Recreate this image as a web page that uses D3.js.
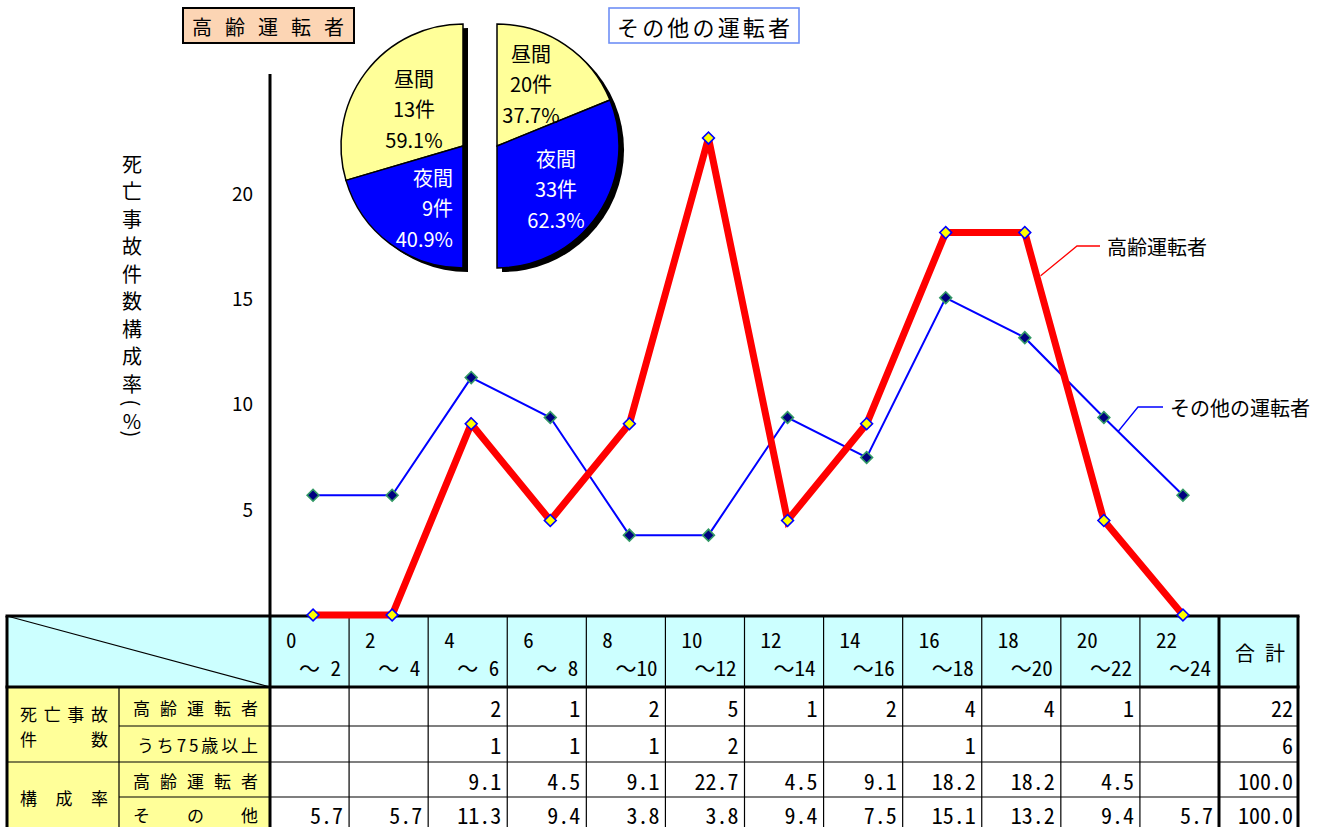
<!DOCTYPE html>
<html lang="ja">
<head>
<meta charset="utf-8">
<title>時間帯別 死亡事故件数構成率</title>
<script src="https://cdn.jsdelivr.net/npm/d3@7"></script>
<style>
  body { margin: 0; background: #fff; }
  svg { display: block; font-family: "Noto Sans CJK JP", "Noto Sans", sans-serif; }
</style>
</head>
<body>
<svg id="chart" width="1332" height="827"></svg>
<script>
// ---- data ----

const hourFrom = ['0', '2', '4', '6', '8', '10', '12', '14', '16', '18', '20', '22'];
const hourTo = ['～ 2', '～ 4', '～ 6', '～ 8', '～10', '～12', '～14', '～16', '～18', '～20', '～22', '～24'];

// 死亡事故件数
const elderlyCount = [null, null, 2, 1, 2, 5, 1, 2, 4, 4, 1, null];
const over75Count  = [null, null, 1, 1, 1, 2, null, null, 1, null, null, null];
// 構成率 (%)
const elderlyRate  = [null, null, 9.1, 4.5, 9.1, 22.7, 4.5, 9.1, 18.2, 18.2, 4.5, null];
const otherRate    = [5.7, 5.7, 11.3, 9.4, 3.8, 3.8, 9.4, 7.5, 15.1, 13.2, 9.4, 5.7];
const rowTotals    = ['22', '6', '100.0', '100.0'];

// 昼夜別 (pies)
const elderlyPie = [ {name: '昼間', count: 13, pct: 59.1}, {name: '夜間', count: 9, pct: 40.9} ];
const otherPie   = [ {name: '昼間', count: 20, pct: 37.7}, {name: '夜間', count: 33, pct: 62.3} ];

const yTicks = [5, 10, 15, 20];

// ---- layout ----
const svg = d3.select('#chart');
const monoFont = '"Noto Sans Mono CJK JP", "Noto Sans CJK JP", monospace';

const tbl = { left: 7, labelDiv: 119, colStart: 270, colEnd: 1219, right: 1298,
              top: 616, headBottom: 687 };

// table columns and plot positions
const colX = d3.scaleBand().domain(hourFrom).range([tbl.colStart, tbl.colEnd]);
const plotX = d3.scaleBand().domain(hourFrom).range([tbl.colStart + 3.5, tbl.colEnd + 3.5]);
const px = h => plotX(h) + plotX.bandwidth() / 2;
const y = d3.scaleLinear().domain([0, 25.75]).range([615, 74]);

/*************************************************************/
// table backgrounds

svg.append('rect').attr('x', tbl.left).attr('y', tbl.top)
   .attr('width', tbl.right - tbl.left).attr('height', tbl.headBottom - tbl.top)
   .attr('fill', '#ccffff');
svg.append('rect').attr('x', tbl.left).attr('y', tbl.headBottom)
   .attr('width', tbl.colStart - tbl.left).attr('height', 833 - tbl.headBottom)
   .attr('fill', '#ffff99');

// thin grid lines
const thin = svg.append('g').attr('stroke', '#000').attr('stroke-width', 1.2);
[726, 797].forEach(yy => thin.append('line').attr('x1', tbl.labelDiv).attr('x2', tbl.right).attr('y1', yy).attr('y2', yy));
thin.append('line').attr('x1', tbl.left).attr('x2', tbl.right).attr('y1', 762).attr('y2', 762);
thin.append('line').attr('x1', tbl.labelDiv).attr('x2', tbl.labelDiv).attr('y1', tbl.headBottom).attr('y2', 833);
hourFrom.slice(1).forEach(h => thin.append('line')
   .attr('x1', colX(h)).attr('x2', colX(h)).attr('y1', tbl.top).attr('y2', 833));
thin.append('line').attr('x1', tbl.left).attr('y1', tbl.top).attr('x2', tbl.colStart).attr('y2', tbl.headBottom);

// thick frame lines
const thick = svg.append('g').attr('stroke', '#000').attr('stroke-width', 3);
[tbl.top, tbl.headBottom].forEach(yy => thick.append('line').attr('x1', tbl.left - 1.5).attr('x2', tbl.right + 1.5).attr('y1', yy).attr('y2', yy));
[tbl.left, tbl.colEnd, tbl.right].forEach(xx => thick.append('line').attr('x1', xx).attr('x2', xx).attr('y1', tbl.top).attr('y2', 833));
thick.append('line').attr('x1', tbl.colStart).attr('x2', tbl.colStart).attr('y1', y.range()[1]).attr('y2', 833);

// header
const head = svg.append('g').attr('font-family', monoFont).attr('font-size', 21).attr('fill', '#000');
hourFrom.forEach((h, i) => {
  head.append('text').attr('x', colX(h) + 16).attr('y', 639).attr('dominant-baseline', 'central').text(h);
  head.append('text').attr('x', colX(h) + colX.bandwidth() - 8).attr('y', 667)
      .attr('text-anchor', 'end').attr('dominant-baseline', 'central').text(hourTo[i]);
});
svg.append('text').attr('x', 1235).attr('y', 652).attr('font-size', 20)
   .attr('dominant-baseline', 'central').attr('textLength', 50).attr('lengthAdjust', 'spacing').text('合計');

// row labels (distributed across the cell)
const labels = [
  {t: '死亡事故', x: 20, y: 713, w: 88},
  {t: '件　　数', x: 20, y: 738, w: 88},
  {t: '構成率',   x: 20, y: 797, w: 88},
  {t: '高齢運転者', x: 133, y: 707, w: 125},
  {t: 'うち75歳以上', x: 137, y: 744, w: 121},
  {t: '高齢運転者', x: 133, y: 780, w: 125},
  {t: 'その他',   x: 133, y: 814, w: 125}
];
svg.append('g').attr('font-size', 17).selectAll('text').data(labels).join('text')
   .attr('x', d => d.x).attr('y', d => d.y).attr('dominant-baseline', 'central')
   .attr('textLength', d => d.w).attr('lengthAdjust', 'spacing').text(d => d.t);

// cell values
const fmtInt = v => v == null ? '' : String(v);
const fmtPct = v => v == null ? '' : v.toFixed(1);
const tableRows = [
  {vals: elderlyCount.map(fmtInt), y: 707},
  {vals: over75Count.map(fmtInt),  y: 744},
  {vals: elderlyRate.map(fmtPct),  y: 780},
  {vals: otherRate.map(fmtPct),    y: 814}
];
const cells = svg.append('g').attr('font-family', monoFont).attr('font-size', 22);
tableRows.forEach((row, r) => {
  row.vals.forEach((v, i) => cells.append('text')
     .attr('x', colX(hourFrom[i]) + colX.bandwidth() - 6).attr('y', row.y)
     .attr('text-anchor', 'end').attr('dominant-baseline', 'central').text(v));
  cells.append('text').attr('x', tbl.right - 5).attr('y', row.y)
     .attr('text-anchor', 'end').attr('dominant-baseline', 'central').text(rowTotals[r]);
});

/*************************************************************/
// y axis

svg.append('g').attr('transform', `translate(${tbl.colStart},0)`)
   .call(d3.axisLeft(y).tickValues(yTicks).tickSize(0).tickPadding(17))
   .call(g => g.select('.domain').remove())
   .call(g => g.selectAll('text').attr('font-size', 19).attr('font-family', '"Noto Sans CJK JP", sans-serif'));

// vertical axis title, one glyph at a time; brackets turned for vertical writing
const titleChars = [['死', 27.5], ['亡', 27.5], ['事', 27.5], ['故', 27.5], ['件', 27.5], ['数', 27.5],
                    ['構', 27.5], ['成', 27.5], ['率', 20], ['(', 17], ['%', 14], [')', 0]];
let ty = 163;
const yTitle = svg.append('g').attr('font-size', 20).attr('text-anchor', 'middle');
titleChars.forEach(([c, adv]) => {
  const t = yTitle.append('text').attr('x', 132).attr('y', ty).attr('dominant-baseline', 'central').text(c);
  if (c === '(' || c === ')') t.attr('transform', `rotate(90,132,${ty})`);
  ty += adv;
});

/*************************************************************/
// lines

const diamond = d3.symbol().type(d3.symbolSquare).size(70);

function drawSeries(values, opt) {
  const pts = values.map((v, i) => [px(hourFrom[i]), y(v == null ? 0 : v)]);
  svg.append('path').datum(pts).attr('d', d3.line())
     .attr('fill', 'none').attr('stroke', opt.line).attr('stroke-width', opt.width)
     .attr('stroke-linejoin', 'miter');
  svg.append('g').selectAll('path').data(pts).join('path')
     .attr('d', diamond).attr('transform', d => `translate(${d[0]},${d[1]}) rotate(45)`)
     .attr('fill', opt.fill).attr('stroke', opt.stroke).attr('stroke-width', 1.6);
  return pts;
}

const otherPts = drawSeries(otherRate, {line: '#0000ff', width: 2, fill: '#000080', stroke: '#339966'});
const elderPts = drawSeries(elderlyRate, {line: '#ff0000', width: 7, fill: '#ffff00', stroke: '#0000ff'});

// series labels with leader lines
function leader(pts, i, t, dx, elbow, tail, color, text) {
  const a = pts[i], b = pts[i + 1];
  const sx = a[0] + (b[0] - a[0]) * t + dx, sy = a[1] + (b[1] - a[1]) * t;
  svg.append('polyline')
     .attr('points', [[sx, sy], [elbow[0], elbow[1]], [tail, elbow[1]]].join(' '))
     .attr('fill', 'none').attr('stroke', color).attr('stroke-width', 1.3);
  svg.append('text').attr('x', tail + 7).attr('y', elbow[1]).attr('font-size', 20)
     .attr('dominant-baseline', 'central').text(text);
}
leader(elderPts, 9, 0.15, 4, [1077, 246], 1100, '#ff0000', '高齢運転者');
leader(otherPts, 10, 0.18, 0, [1138, 407], 1163, '#0000ff', 'その他の運転者');

/*************************************************************/
// half pies

function halfPie(data, cx, cy, r, dir, labelPos) {
  const g = svg.append('g').attr('transform', `translate(${cx},${cy})`);
  const end = dir * Math.PI;
  const shadow = d3.arc().innerRadius(0).outerRadius(r)({startAngle: 0, endAngle: end});
  g.append('path').attr('d', shadow).attr('fill', '#000').attr('transform', 'translate(5,4)');
  const arcs = d3.pie().sort(null).value(d => d.pct).startAngle(0).endAngle(end)(data);
  const arc = d3.arc().innerRadius(0).outerRadius(r);
  g.selectAll('path.slice').data(arcs).join('path').attr('class', 'slice')
   .attr('d', arc).attr('fill', (d, i) => i === 0 ? '#ffff99' : '#0000ff')
   .attr('stroke', '#000').attr('stroke-width', 1.5);
  arcs.forEach((d, i) => {
    const [lx, ly, anchor] = labelPos[i];
    const txt = g.append('text').attr('font-size', 20).attr('text-anchor', anchor)
       .attr('fill', i === 0 ? '#000' : '#fff');
    [d.data.name, d.data.count + '件', d.data.pct.toFixed(1) + '%'].forEach((s, k) =>
      txt.append('tspan').attr('x', lx).attr('y', ly + k * 30.5).attr('dominant-baseline', 'central').text(s));
  });
}
halfPie(elderlyPie, 463, 146, 122, -1, [[-49, -68, 'middle'], [-10, 31, 'end']]);
halfPie(otherPie, 497, 146, 122, 1, [[34, -93, 'middle'], [59, 12, 'middle']]);

/*************************************************************/
// title boxes

svg.append('rect').attr('x', 183).attr('y', 8).attr('width', 171).attr('height', 35)
   .attr('fill', '#fcd5b4').attr('stroke', '#000').attr('stroke-width', 2);
svg.append('text').attr('x', 192).attr('y', 26).attr('font-size', 20)
   .attr('dominant-baseline', 'central').attr('textLength', 152).attr('lengthAdjust', 'spacing')
   .text('高齢運転者');

svg.append('rect').attr('x', 609).attr('y', 8).attr('width', 190).attr('height', 35)
   .attr('fill', '#fff').attr('stroke', '#6f8ff5').attr('stroke-width', 1.6);
svg.append('text').attr('x', 617).attr('y', 26).attr('font-size', 22)
   .attr('dominant-baseline', 'central').attr('textLength', 173).attr('lengthAdjust', 'spacing')
   .text('その他の運転者');
</script>
</body>
</html>
